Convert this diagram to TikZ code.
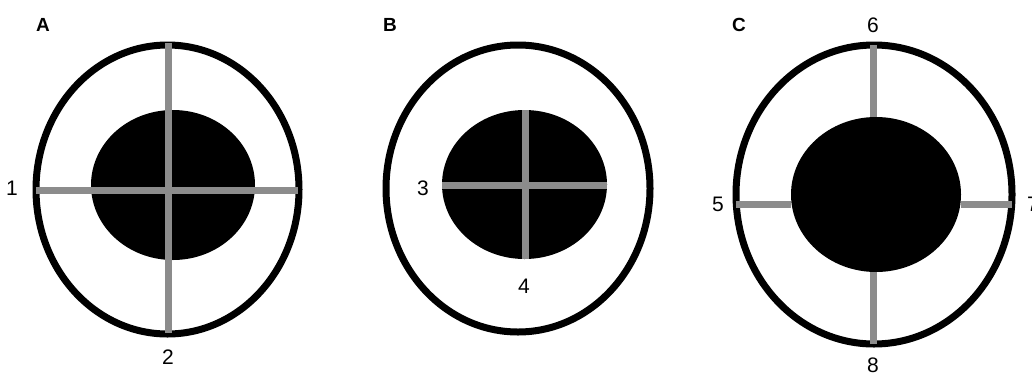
\documentclass[tikz,border=0pt]{standalone}
\usepackage{fontspec}
\setmainfont{Liberation Sans}
\definecolor{bar}{HTML}{8C8C8C}
\tikzset{
  outer/.style={draw=black,line width=7pt},
  inner/.style={fill=black},
  bar/.style={draw=bar,line width=7pt},
  num/.style={font={\fontsize{21}{24}\selectfont},inner sep=0pt,anchor=center},
  plabel/.style={font={\fontsize{19}{22}\selectfont\bfseries},inner sep=0pt,anchor=center}
}
\begin{document}
\begin{tikzpicture}[x=1pt,y=-1pt]
\useasboundingbox (0,0) rectangle (1032,378);
\fill[white] (0,0) rectangle (1032,378);
% Panel A
\node[plabel] (A) at (43,25) {A};
\draw[outer] (167.5,189.5) ellipse [x radius=131.5, y radius=144.5];
\fill[inner] (173,185) ellipse [x radius=82, y radius=75];
\coordinate (a1) at (36,190); \coordinate (a1e) at (298,190);
\coordinate (a2) at (168,43); \coordinate (a2e) at (168,333);
\draw[bar] (a1) -- (a1e);
\draw[bar] (a2) -- (a2e);
\node[num] (n1) at (12,188) {1};
\node[num] (n2) at (168,357) {2};
% Panel B
\node[plabel] (B) at (390,25) {B};
\draw[outer] (518,188.5) ellipse [x radius=132, y radius=143.5];
\fill[inner] (524.5,184.5) ellipse [x radius=82.5, y radius=74.5];
\coordinate (b1) at (442,185); \coordinate (b1e) at (607,185);
\coordinate (b2) at (525,110); \coordinate (b2e) at (525,259);
\draw[bar] (b1) -- (b1e);
\draw[bar] (b2) -- (b2e);
\node[num] (n3) at (423,188) {3};
\node[num] (n4) at (524,286) {4};
% Panel C
\node[plabel] (C) at (739,25) {C};
\draw[outer] (874,194.5) ellipse [x radius=138, y radius=149.5];
\fill[inner] (876,194.5) ellipse [x radius=85, y radius=77.5];
\coordinate (c5) at (736,204); \coordinate (c5e) at (791,204);
\coordinate (c7) at (961,204); \coordinate (c7e) at (1012,204);
\coordinate (c6) at (873,45); \coordinate (c6e) at (873,117);
\coordinate (c8) at (873,272); \coordinate (c8e) at (873,344);
\draw[bar] (c5) -- (c5e);
\draw[bar] (c7) -- (c7e);
\draw[bar] (c6) -- (c6e);
\draw[bar] (c8) -- (c8e);
\node[num] (n5) at (718,204) {5};
\node[num] (n6) at (873,25) {6};
\node[num] (n7) at (1033,204) {7};
\node[num] (n8) at (873,365) {8};
\end{tikzpicture}
\end{document}
